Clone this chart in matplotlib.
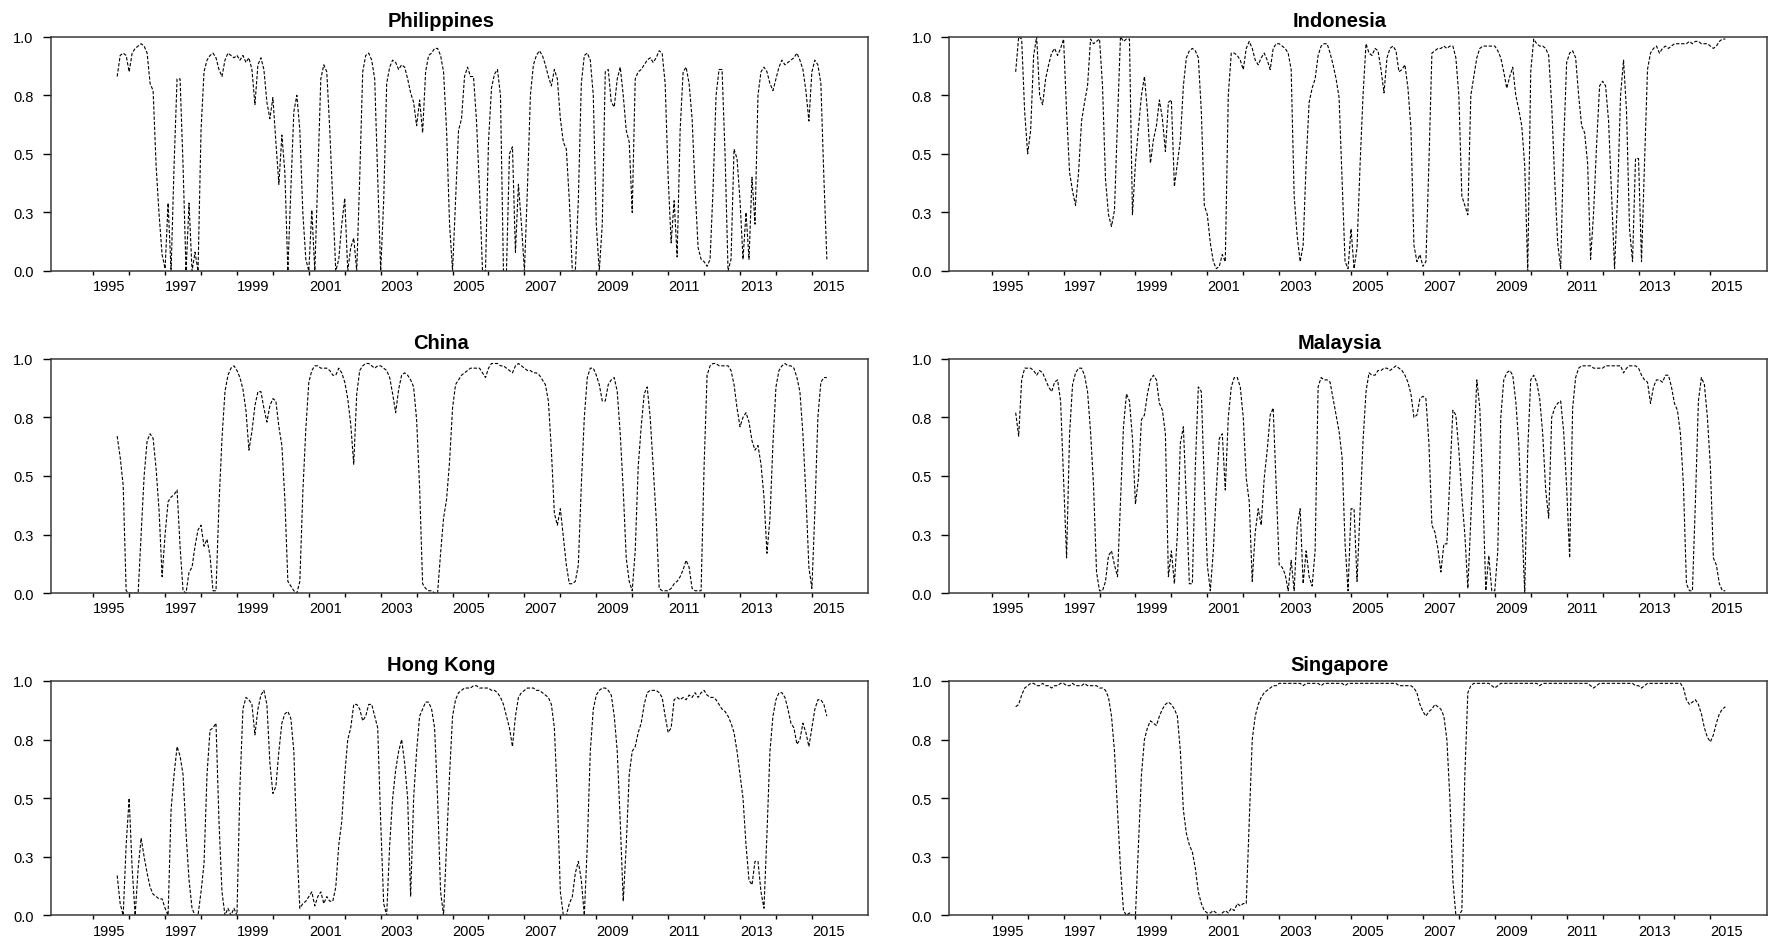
import numpy as np
import matplotlib
matplotlib.use("Agg")
import matplotlib.pyplot as plt

# Monthly smoothed regime probabilities, September 1995 onwards
start_year = 1995 + 8 / 12

philippines = [
    0.83, 0.92, 0.93, 0.92, 0.85, 0.93, 0.95, 0.96, 0.97, 0.96,
    0.93, 0.80, 0.77, 0.45, 0.24, 0.07, 0.01, 0.29, 0.00, 0.45,
    0.82, 0.82, 0.45, 0.00, 0.29, 0.00, 0.08, 0.00, 0.60, 0.85,
    0.90, 0.92, 0.93, 0.91, 0.86, 0.83, 0.90, 0.93, 0.92, 0.91,
    0.92, 0.90, 0.92, 0.89, 0.91, 0.86, 0.71, 0.88, 0.91, 0.86,
    0.72, 0.65, 0.74, 0.55, 0.37, 0.58, 0.42, 0.00, 0.35, 0.68,
    0.75, 0.60, 0.25, 0.05, 0.00, 0.26, 0.00, 0.40, 0.82, 0.88,
    0.85, 0.60, 0.30, 0.00, 0.05, 0.20, 0.31, 0.00, 0.10, 0.14,
    0.00, 0.40, 0.85, 0.92, 0.93, 0.90, 0.82, 0.40, 0.00, 0.30,
    0.80, 0.87, 0.90, 0.89, 0.86, 0.88, 0.87, 0.82, 0.76, 0.72,
    0.62, 0.73, 0.59, 0.85, 0.92, 0.93, 0.95, 0.95, 0.92, 0.85,
    0.60, 0.20, 0.00, 0.30, 0.60, 0.65, 0.83, 0.87, 0.83, 0.83,
    0.64, 0.35, 0.00, 0.00, 0.55, 0.78, 0.84, 0.86, 0.75, 0.00,
    0.00, 0.50, 0.53, 0.08, 0.37, 0.20, 0.00, 0.35, 0.75, 0.88,
    0.92, 0.94, 0.92, 0.88, 0.83, 0.79, 0.86, 0.82, 0.65, 0.55,
    0.52, 0.30, 0.00, 0.00, 0.30, 0.80, 0.92, 0.93, 0.90, 0.75,
    0.20, 0.00, 0.20, 0.85, 0.86, 0.72, 0.70, 0.82, 0.87, 0.75,
    0.60, 0.55, 0.25, 0.82, 0.85, 0.86, 0.88, 0.90, 0.91, 0.89,
    0.91, 0.94, 0.93, 0.80, 0.40, 0.12, 0.30, 0.06, 0.60, 0.85,
    0.87, 0.80, 0.65, 0.35, 0.10, 0.05, 0.04, 0.02, 0.05, 0.35,
    0.75, 0.86, 0.86, 0.50, 0.00, 0.05, 0.52, 0.48, 0.30, 0.05,
    0.25, 0.05, 0.40, 0.20, 0.75, 0.85, 0.87, 0.85, 0.80, 0.77,
    0.82, 0.87, 0.90, 0.88, 0.89, 0.90, 0.91, 0.93, 0.90, 0.86,
    0.77, 0.64, 0.85, 0.90, 0.88, 0.80, 0.40, 0.05,
]

indonesia = [
    0.85, 1.00, 0.99, 0.68, 0.50, 0.60, 0.92, 1.00, 0.75, 0.71,
    0.82, 0.88, 0.93, 0.95, 0.92, 0.95, 0.99, 0.68, 0.42, 0.34,
    0.28, 0.42, 0.64, 0.72, 0.79, 0.99, 0.97, 0.98, 0.99, 0.79,
    0.39, 0.24, 0.19, 0.26, 0.64, 1.00, 0.98, 0.99, 0.99, 0.24,
    0.46, 0.61, 0.75, 0.83, 0.68, 0.46, 0.56, 0.62, 0.73, 0.65,
    0.51, 0.72, 0.73, 0.36, 0.46, 0.56, 0.79, 0.91, 0.94, 0.95,
    0.94, 0.91, 0.68, 0.28, 0.24, 0.12, 0.04, 0.01, 0.02, 0.07,
    0.04, 0.75, 0.93, 0.93, 0.92, 0.90, 0.86, 0.95, 0.98, 0.95,
    0.90, 0.88, 0.91, 0.93, 0.90, 0.86, 0.95, 0.97, 0.97, 0.96,
    0.95, 0.93, 0.86, 0.32, 0.15, 0.04, 0.11, 0.46, 0.72, 0.78,
    0.82, 0.92, 0.96, 0.97, 0.97, 0.93, 0.88, 0.82, 0.74, 0.39,
    0.04, 0.01, 0.18, 0.01, 0.10, 0.45, 0.75, 0.97, 0.93, 0.92,
    0.95, 0.94, 0.86, 0.76, 0.91, 0.95, 0.96, 0.94, 0.85, 0.86,
    0.88, 0.78, 0.61, 0.11, 0.04, 0.07, 0.02, 0.04, 0.46, 0.93,
    0.94, 0.95, 0.95, 0.96, 0.95, 0.96, 0.96, 0.91, 0.75, 0.32,
    0.28, 0.24, 0.75, 0.83, 0.91, 0.95, 0.96, 0.96, 0.96, 0.96,
    0.96, 0.94, 0.91, 0.85, 0.78, 0.83, 0.87, 0.75, 0.69, 0.62,
    0.45, 0.00, 0.85, 0.99, 0.97, 0.96, 0.96, 0.95, 0.92, 0.71,
    0.39, 0.12, 0.01, 0.54, 0.89, 0.93, 0.94, 0.91, 0.75, 0.62,
    0.59, 0.46, 0.05, 0.25, 0.54, 0.79, 0.81, 0.79, 0.64, 0.32,
    0.01, 0.32, 0.75, 0.90, 0.68, 0.18, 0.04, 0.48, 0.48, 0.04,
    0.46, 0.86, 0.93, 0.95, 0.96, 0.93, 0.95, 0.96, 0.95, 0.96,
    0.97, 0.97, 0.97, 0.97, 0.97, 0.98, 0.97, 0.98, 0.98, 0.97,
    0.97, 0.97, 0.96, 0.95, 0.96, 0.98, 0.99, 0.99,
]

china = [
    0.67, 0.58, 0.46, 0.01, 0.00, 0.00, 0.00, 0.00, 0.25, 0.50,
    0.65, 0.68, 0.66, 0.53, 0.35, 0.07, 0.25, 0.39, 0.41, 0.42,
    0.44, 0.20, 0.01, 0.00, 0.09, 0.11, 0.20, 0.27, 0.29, 0.20,
    0.23, 0.16, 0.01, 0.01, 0.38, 0.66, 0.86, 0.93, 0.96, 0.97,
    0.95, 0.92, 0.87, 0.78, 0.61, 0.69, 0.80, 0.86, 0.86, 0.79,
    0.73, 0.80, 0.83, 0.82, 0.71, 0.63, 0.40, 0.05, 0.03, 0.01,
    0.00, 0.05, 0.43, 0.70, 0.90, 0.95, 0.97, 0.97, 0.96, 0.96,
    0.96, 0.95, 0.93, 0.93, 0.96, 0.94, 0.90, 0.83, 0.72, 0.55,
    0.85, 0.95, 0.97, 0.98, 0.98, 0.97, 0.96, 0.97, 0.97, 0.96,
    0.95, 0.92, 0.85, 0.77, 0.87, 0.93, 0.94, 0.93, 0.91, 0.88,
    0.74, 0.45, 0.04, 0.02, 0.01, 0.01, 0.00, 0.00, 0.17, 0.32,
    0.40, 0.56, 0.79, 0.89, 0.91, 0.93, 0.94, 0.95, 0.96, 0.96,
    0.96, 0.96, 0.94, 0.92, 0.96, 0.98, 0.98, 0.98, 0.97, 0.97,
    0.96, 0.95, 0.94, 0.97, 0.98, 0.97, 0.96, 0.95, 0.95, 0.94,
    0.94, 0.93, 0.91, 0.89, 0.82, 0.61, 0.34, 0.29, 0.36, 0.24,
    0.12, 0.04, 0.04, 0.05, 0.12, 0.46, 0.75, 0.92, 0.96, 0.96,
    0.93, 0.89, 0.82, 0.82, 0.89, 0.91, 0.92, 0.86, 0.68, 0.44,
    0.15, 0.05, 0.01, 0.18, 0.54, 0.71, 0.85, 0.88, 0.75, 0.54,
    0.32, 0.02, 0.01, 0.01, 0.01, 0.02, 0.04, 0.05, 0.07, 0.10,
    0.14, 0.11, 0.02, 0.01, 0.01, 0.01, 0.54, 0.93, 0.97, 0.98,
    0.98, 0.97, 0.97, 0.97, 0.97, 0.95, 0.89, 0.79, 0.71, 0.75,
    0.77, 0.73, 0.65, 0.61, 0.63, 0.55, 0.41, 0.17, 0.32, 0.64,
    0.88, 0.95, 0.97, 0.98, 0.97, 0.97, 0.96, 0.92, 0.86, 0.68,
    0.42, 0.11, 0.02, 0.35, 0.75, 0.90, 0.92, 0.92,
]

malaysia = [
    0.77, 0.67, 0.91, 0.96, 0.96, 0.96, 0.95, 0.93, 0.95, 0.94,
    0.91, 0.88, 0.86, 0.90, 0.91, 0.82, 0.49, 0.15, 0.68, 0.89,
    0.94, 0.96, 0.96, 0.93, 0.86, 0.69, 0.46, 0.09, 0.01, 0.01,
    0.05, 0.16, 0.18, 0.12, 0.07, 0.39, 0.71, 0.85, 0.82, 0.66,
    0.38, 0.49, 0.74, 0.76, 0.85, 0.91, 0.93, 0.91, 0.81, 0.78,
    0.68, 0.07, 0.18, 0.04, 0.25, 0.64, 0.71, 0.39, 0.04, 0.04,
    0.54, 0.88, 0.86, 0.46, 0.12, 0.01, 0.18, 0.44, 0.66, 0.68,
    0.44, 0.75, 0.88, 0.92, 0.92, 0.88, 0.75, 0.49, 0.39, 0.05,
    0.26, 0.36, 0.29, 0.49, 0.61, 0.76, 0.79, 0.46, 0.12, 0.11,
    0.08, 0.01, 0.14, 0.01, 0.28, 0.36, 0.04, 0.18, 0.07, 0.03,
    0.18, 0.88, 0.92, 0.91, 0.91, 0.90, 0.83, 0.76, 0.69, 0.58,
    0.21, 0.01, 0.36, 0.36, 0.05, 0.35, 0.65, 0.86, 0.94, 0.93,
    0.93, 0.95, 0.95, 0.96, 0.96, 0.95, 0.96, 0.97, 0.96, 0.95,
    0.93, 0.90, 0.85, 0.75, 0.76, 0.83, 0.84, 0.83, 0.64, 0.29,
    0.26, 0.19, 0.09, 0.21, 0.21, 0.49, 0.78, 0.76, 0.61, 0.41,
    0.25, 0.02, 0.32, 0.61, 0.91, 0.79, 0.44, 0.01, 0.16, 0.01,
    0.01, 0.18, 0.75, 0.91, 0.94, 0.95, 0.93, 0.82, 0.64, 0.32,
    0.00, 0.61, 0.91, 0.93, 0.90, 0.83, 0.68, 0.44, 0.32, 0.75,
    0.79, 0.81, 0.82, 0.69, 0.45, 0.15, 0.79, 0.92, 0.96, 0.97,
    0.97, 0.97, 0.97, 0.96, 0.96, 0.96, 0.96, 0.97, 0.97, 0.97,
    0.97, 0.97, 0.97, 0.94, 0.96, 0.97, 0.97, 0.97, 0.96, 0.93,
    0.91, 0.90, 0.81, 0.88, 0.91, 0.91, 0.90, 0.93, 0.93, 0.88,
    0.81, 0.78, 0.68, 0.46, 0.04, 0.01, 0.01, 0.39, 0.82, 0.92,
    0.89, 0.75, 0.54, 0.15, 0.12, 0.04, 0.01, 0.01,
]

hong_kong = [
    0.17, 0.05, 0.00, 0.30, 0.50, 0.20, 0.00, 0.20, 0.33, 0.25,
    0.18, 0.12, 0.09, 0.08, 0.07, 0.07, 0.03, 0.00, 0.45, 0.60,
    0.72, 0.68, 0.60, 0.35, 0.15, 0.03, 0.00, 0.00, 0.10, 0.22,
    0.60, 0.79, 0.80, 0.82, 0.40, 0.10, 0.00, 0.03, 0.00, 0.03,
    0.00, 0.55, 0.88, 0.93, 0.92, 0.90, 0.77, 0.88, 0.94, 0.96,
    0.90, 0.65, 0.52, 0.55, 0.70, 0.82, 0.86, 0.87, 0.84, 0.70,
    0.30, 0.03, 0.05, 0.06, 0.08, 0.10, 0.04, 0.08, 0.10, 0.05,
    0.08, 0.06, 0.06, 0.12, 0.30, 0.40, 0.60, 0.75, 0.80, 0.90,
    0.90, 0.88, 0.83, 0.85, 0.90, 0.90, 0.85, 0.80, 0.40, 0.05,
    0.00, 0.30, 0.50, 0.62, 0.70, 0.75, 0.65, 0.50, 0.08, 0.50,
    0.70, 0.85, 0.88, 0.91, 0.91, 0.88, 0.80, 0.50, 0.10, 0.00,
    0.30, 0.60, 0.85, 0.92, 0.95, 0.96, 0.97, 0.97, 0.97, 0.98,
    0.98, 0.97, 0.97, 0.97, 0.97, 0.96, 0.96, 0.95, 0.93, 0.90,
    0.85, 0.80, 0.72, 0.85, 0.93, 0.95, 0.96, 0.97, 0.97, 0.97,
    0.96, 0.96, 0.95, 0.94, 0.93, 0.90, 0.80, 0.50, 0.10, 0.00,
    0.00, 0.05, 0.08, 0.18, 0.23, 0.15, 0.00, 0.30, 0.70, 0.88,
    0.94, 0.96, 0.97, 0.97, 0.96, 0.94, 0.85, 0.70, 0.40, 0.06,
    0.30, 0.60, 0.70, 0.72, 0.78, 0.82, 0.90, 0.95, 0.96, 0.96,
    0.96, 0.95, 0.93, 0.85, 0.78, 0.80, 0.92, 0.93, 0.92, 0.93,
    0.92, 0.94, 0.93, 0.95, 0.93, 0.95, 0.96, 0.94, 0.93, 0.93,
    0.92, 0.90, 0.88, 0.87, 0.85, 0.82, 0.78, 0.70, 0.60, 0.50,
    0.30, 0.15, 0.13, 0.23, 0.23, 0.10, 0.03, 0.35, 0.70, 0.85,
    0.92, 0.95, 0.95, 0.93, 0.88, 0.82, 0.80, 0.73, 0.75, 0.82,
    0.78, 0.72, 0.80, 0.88, 0.92, 0.92, 0.90, 0.85,
]

singapore = [
    0.89, 0.90, 0.94, 0.97, 0.98, 0.99, 0.99, 0.98, 0.98, 0.99,
    0.98, 0.98, 0.97, 0.98, 0.98, 0.99, 0.99, 0.98, 0.98, 0.99,
    0.98, 0.98, 0.98, 0.99, 0.98, 0.98, 0.98, 0.98, 0.97, 0.97,
    0.96, 0.93, 0.85, 0.70, 0.45, 0.20, 0.02, 0.00, 0.01, 0.00,
    0.00, 0.30, 0.60, 0.75, 0.80, 0.83, 0.82, 0.81, 0.85, 0.88,
    0.90, 0.91, 0.90, 0.88, 0.85, 0.70, 0.45, 0.35, 0.30, 0.27,
    0.20, 0.10, 0.05, 0.02, 0.01, 0.01, 0.02, 0.01, 0.00, 0.01,
    0.02, 0.01, 0.03, 0.02, 0.05, 0.04, 0.05, 0.05, 0.40, 0.75,
    0.85, 0.90, 0.93, 0.95, 0.96, 0.97, 0.98, 0.98, 0.99, 0.99,
    0.99, 0.99, 0.99, 0.99, 0.99, 0.99, 0.98, 0.99, 0.99, 0.99,
    0.99, 0.99, 0.98, 0.99, 0.99, 0.99, 0.99, 0.99, 0.99, 0.99,
    0.98, 0.99, 0.99, 0.99, 0.99, 0.99, 0.99, 0.99, 0.99, 0.99,
    0.99, 0.99, 0.99, 0.99, 0.99, 0.99, 0.99, 0.99, 0.98, 0.98,
    0.98, 0.98, 0.98, 0.97, 0.95, 0.90, 0.87, 0.85, 0.87, 0.88,
    0.90, 0.89, 0.88, 0.85, 0.75, 0.50, 0.15, 0.00, 0.00, 0.02,
    0.60, 0.95, 0.98, 0.99, 0.99, 0.99, 0.99, 0.99, 0.99, 0.98,
    0.97, 0.98, 0.99, 0.99, 0.99, 0.99, 0.99, 0.99, 0.99, 0.99,
    0.99, 0.99, 0.99, 0.99, 0.99, 0.98, 0.99, 0.99, 0.99, 0.99,
    0.99, 0.99, 0.99, 0.99, 0.99, 0.99, 0.99, 0.99, 0.99, 0.99,
    0.99, 0.99, 0.98, 0.97, 0.98, 0.99, 0.99, 0.99, 0.99, 0.99,
    0.99, 0.99, 0.99, 0.99, 0.99, 0.99, 0.99, 0.98, 0.98, 0.97,
    0.98, 0.99, 0.99, 0.99, 0.99, 0.99, 0.99, 0.99, 0.99, 0.99,
    0.99, 0.99, 0.99, 0.97, 0.92, 0.90, 0.91, 0.92, 0.90, 0.86,
    0.80, 0.76, 0.74, 0.77, 0.82, 0.86, 0.88, 0.89,
]

panels = [
    ("Philippines", philippines),
    ("Indonesia", indonesia),
    ("China", china),
    ("Malaysia", malaysia),
    ("Hong Kong", hong_kong),
    ("Singapore", singapore),
]

year_ticks = list(range(1995, 2016))
year_labels = [str(y) if y % 2 == 1 else "" for y in year_ticks]
y_ticks = [0.0, 0.25, 0.5, 0.75, 1.0]
y_labels = ["0.0", "0.3", "0.5", "0.8", "1.0"]

plt.rcParams["font.family"] = ["Liberation Sans", "DejaVu Sans"]

W, H = 1779, 945
fig = plt.figure(figsize=(W / 100, H / 100), dpi=100)
fig.patch.set_facecolor("white")

col_left = [51.0, 949.5]
col_width = 817.3
row_top = [37.7, 359.8, 682.0]
row_height = 234.3

for i, (name, values) in enumerate(panels):
    r, c = divmod(i, 2)
    ax = fig.add_axes([col_left[c] / W, 1 - (row_top[r] + row_height) / H,
                       col_width / W, row_height / H])
    t = start_year + np.arange(len(values)) / 12.0
    ax.plot(t, values, color="black", lw=0.8, linestyle=(0, (3, 1.6)))
    ax.set_xlim(1993.825, 2016.57)
    ax.set_ylim(0, 1)

    ax.set_xticks(year_ticks)
    ax.set_xticklabels(year_labels)
    for lab in ax.get_xticklabels():
        lab.set_horizontalalignment("left")
    ax.set_yticks(y_ticks)
    ax.set_yticklabels(y_labels)

    ax.tick_params(axis="x", direction="out", length=3, width=1.0,
                   labelsize=10.5, pad=3.0, colors="black")
    ax.tick_params(axis="y", direction="out", length=6, width=1.0,
                   labelsize=10.5, pad=6.5, colors="black")
    for sp in ax.spines.values():
        sp.set_color("#3a3a3a")
        sp.set_linewidth(1.1)

    cx = (col_left[c] + col_width / 2 - 18.5) / W
    fig.text(cx, 1 - (row_top[r] - 10.5) / H, name, ha="center",
             va="baseline", fontsize=14.5, fontweight="bold")

fig.savefig("out.png", dpi=100)
